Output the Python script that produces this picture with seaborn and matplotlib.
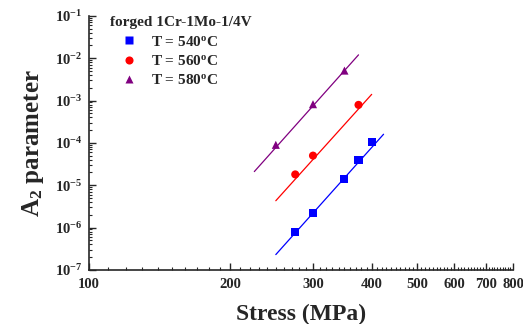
import matplotlib
matplotlib.use("Agg")
import matplotlib.pyplot as plt
import matplotlib.ticker as mticker
import numpy as np
import pandas as pd
import seaborn as sns

# measured points
temps = ["540", "560", "580"]
stress_540 = [275, 300, 349, 375, 400]
a2_540 = [8.0e-7, 2.2e-6, 1.4e-5, 3.9e-5, 1.05e-4]
stress_560 = [275, 300, 375]
a2_560 = [1.8e-5, 5.0e-5, 7.9e-4]
stress_580 = [250, 300, 350]
a2_580 = [9.0e-5, 8.2e-4, 5.1e-3]

# fitted line end points
fit_x_540 = [250, 424]
fit_y_540 = [2.3e-7, 1.6e-4]
fit_x_560 = [250, 400]
fit_y_560 = [4.3e-6, 1.4e-3]
fit_x_580 = [225, 375]
fit_y_580 = [2.1e-5, 1.2e-2]

colors = {"540": "#0000FF", "560": "#FF0000", "580": "#800080"}
markers = {"540": "s", "560": "o", "580": "^"}

x_major = [100, 200, 300, 400, 500, 600, 700, 800]

sns.set_style("ticks")
plt.rcParams["font.family"] = ["Liberation Serif", "DejaVu Serif"]
plt.rcParams["font.weight"] = "bold"
plt.rcParams["mathtext.fontset"] = "custom"
plt.rcParams["mathtext.rm"] = "Liberation Serif:bold"
plt.rcParams["mathtext.bf"] = "Liberation Serif:bold"
plt.rcParams["mathtext.it"] = "Liberation Serif:bold"

pts = pd.concat([
    pd.DataFrame({"stress": stress_540, "a2": a2_540, "T": "540"}),
    pd.DataFrame({"stress": stress_560, "a2": a2_560, "T": "560"}),
    pd.DataFrame({"stress": stress_580, "a2": a2_580, "T": "580"}),
])
fits = pd.concat([
    pd.DataFrame({"stress": fit_x_540, "a2": fit_y_540, "T": "540"}),
    pd.DataFrame({"stress": fit_x_560, "a2": fit_y_560, "T": "560"}),
    pd.DataFrame({"stress": fit_x_580, "a2": fit_y_580, "T": "580"}),
])

fig = plt.figure(figsize=(5.23, 3.24), dpi=100)
ax = fig.add_axes([0.170, 0.167, 0.811, 0.784])

sns.lineplot(data=fits, x="stress", y="a2", hue="T", palette=colors,
             linewidth=0.9, legend=False, ax=ax, estimator=None, sort=False)
sns.scatterplot(data=pts, x="stress", y="a2", hue="T", style="T",
                palette=colors, markers=markers, s=34, edgecolor="none",
                ax=ax, zorder=3)

ax.set_xscale("log")
ax.set_yscale("log")
ax.set_xlim(100, 800)
ax.set_ylim(1e-7, 1e-1)

ax.xaxis.set_major_locator(mticker.FixedLocator(x_major))
ax.xaxis.set_major_formatter(mticker.FixedFormatter([str(v) for v in x_major]))
ax.xaxis.set_minor_locator(mticker.FixedLocator(np.arange(110, 800, 10)))
ax.xaxis.set_minor_formatter(mticker.NullFormatter())

ax.yaxis.set_major_locator(mticker.LogLocator(base=10, numticks=20))
ax.yaxis.set_major_formatter(mticker.FuncFormatter(
    lambda v, p: r"$\mathbf{10^{%d}}$" % int(round(np.log10(v)))))
ax.yaxis.set_minor_locator(mticker.LogLocator(base=10, subs=np.arange(2, 10), numticks=20))
ax.yaxis.set_minor_formatter(mticker.NullFormatter())

ax.tick_params(which="major", direction="in", length=5, width=1, labelsize=10.5)
ax.tick_params(axis="x", which="major", pad=6)
ax.tick_params(axis="y", which="major", pad=5)
ax.tick_params(which="minor", direction="in", length=2.5, width=0.8)
for side in ["top", "right"]:
    ax.spines[side].set_visible(False)
for side in ["left", "bottom"]:
    ax.spines[side].set_linewidth(1.2)

ax.set_xlabel("Stress (MPa)", fontsize=17, fontweight="bold", labelpad=9)
ax.set_ylabel(r"A$_{\mathbf{2}}$ parameter", fontsize=18, fontweight="bold", labelpad=6)

handles, labels = ax.get_legend_handles_labels()
new_labels = [r"T = %s$^{\mathbf{o}}$C" % t for t in labels]
leg = ax.legend(handles, new_labels, title="forged 1Cr-1Mo-1/4V", loc="upper left",
                frameon=False, fontsize=11, title_fontsize=11, handlelength=2.4,
                handletextpad=0.25, bbox_to_anchor=(0.025, 1.04),
                labelspacing=0.35, borderpad=0.2)
leg.get_title().set_fontweight("bold")
leg._legend_box.align = "left"

fig.savefig("out.png", dpi=100)
